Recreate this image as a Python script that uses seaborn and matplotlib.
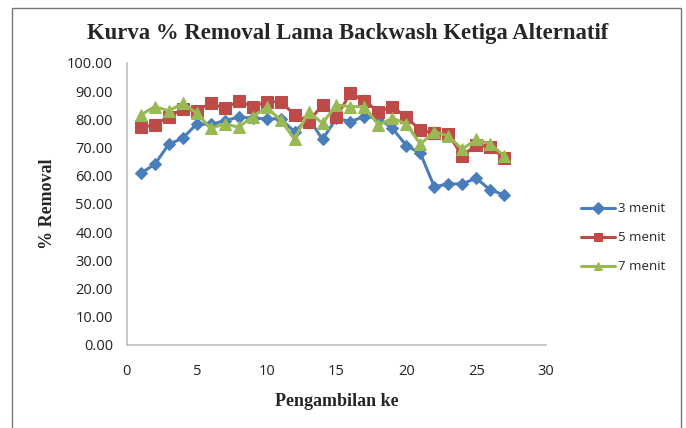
import matplotlib
matplotlib.use("Agg")
import matplotlib.pyplot as plt
import seaborn as sns
import pandas as pd
from matplotlib.patches import Rectangle

# datos
pengambilan = list(range(1, 28))
menit_3 = [60.9, 64.1, 71.2, 73.3, 78.4, 78.2, 79.5, 80.8, 80.4, 80.2, 80.2, 75.6, 80.4, 72.9,
           80.4, 79.2, 81.0, 80.4, 76.8, 70.7, 68.0, 56.1, 57.1, 57.1, 59.1, 55.0, 53.2]
menit_5 = [77.2, 78.0, 81.0, 83.6, 83.1, 85.7, 83.9, 86.5, 84.5, 86.1, 86.3, 81.6, 79.2, 85.1,
           81.0, 89.2, 86.6, 82.7, 84.5, 80.7, 76.2, 75.1, 74.8, 67.0, 70.9, 70.3, 66.2]
menit_7 = [81.6, 84.5, 83.0, 85.7, 82.2, 76.8, 78.4, 77.2, 81.0, 84.2, 79.8, 72.9, 82.7, 78.6,
           85.1, 84.5, 84.5, 78.0, 80.4, 78.4, 71.2, 75.6, 74.1, 69.4, 72.9, 71.3, 67.0]
series = ["3 menit", "5 menit", "7 menit"]
warna = ["#4a7ebb", "#be4b48", "#98b954"]
marker = ["D", "s", "^"]
ukuran = [6, 9, 9]

df = pd.DataFrame({"x": pengambilan, "3 menit": menit_3, "5 menit": menit_5, "7 menit": menit_7})
df = df.melt(id_vars="x", var_name="seri", value_name="removal")

sns.set_style("white")
fig = plt.figure(figsize=(6.86, 4.28), dpi=100)
ax = fig.add_axes([0.185, 0.194, 0.611, 0.659])

for s, c, m, ms in zip(series, warna, marker, ukuran):
    sns.lineplot(data=df[df["seri"] == s], x="x", y="removal", ax=ax, color=c,
                 marker=m, markersize=ms, markeredgecolor=c, linewidth=2.2, label=s)

ax.set_xlim(0, 30)
ax.set_ylim(0, 100)
ax.set_xticks(range(0, 31, 5))
ax.set_yticks(range(0, 101, 10))
ax.set_yticklabels([f"{v:.2f}" for v in range(0, 101, 10)])
ax.tick_params(length=0, labelsize=10.5, colors="#222222")
ax.tick_params(axis="x", pad=14)
ax.tick_params(axis="y", pad=10)
for lab in ax.get_xticklabels() + ax.get_yticklabels():
    lab.set_family("Open Sans")
for sp in ["top", "right"]:
    ax.spines[sp].set_visible(False)
for sp in ["left", "bottom"]:
    ax.spines[sp].set_color("#bfbfbf")
    ax.spines[sp].set_linewidth(1.2)

ax.set_xlabel("Pengambilan ke", family="Liberation Serif", fontweight="bold", fontsize=13, labelpad=10)
ax.set_ylabel("% Removal", family="Liberation Serif", fontweight="bold", fontsize=13, labelpad=8)
fig.text(0.507, 0.922, "Kurva % Removal Lama Backwash Ketiga Alternatif", ha="center", va="center",
         family="Liberation Serif", fontweight="bold", fontsize=16.4)

leg = ax.legend(loc="center left", bbox_to_anchor=(1.055, 0.38), frameon=False,
                prop={"family": "Open Sans", "size": 9.5}, handlelength=2.6,
                labelspacing=1.2, handletextpad=0.2)
for h in leg.legend_handles:
    h.set_markersize(6)

# marco exterior
fig.patches.append(Rectangle((0.017, -0.01), 0.976, 0.992, transform=fig.transFigure,
                             fill=False, edgecolor="#777777", linewidth=1.0))

fig.savefig("out.png", dpi=100)
